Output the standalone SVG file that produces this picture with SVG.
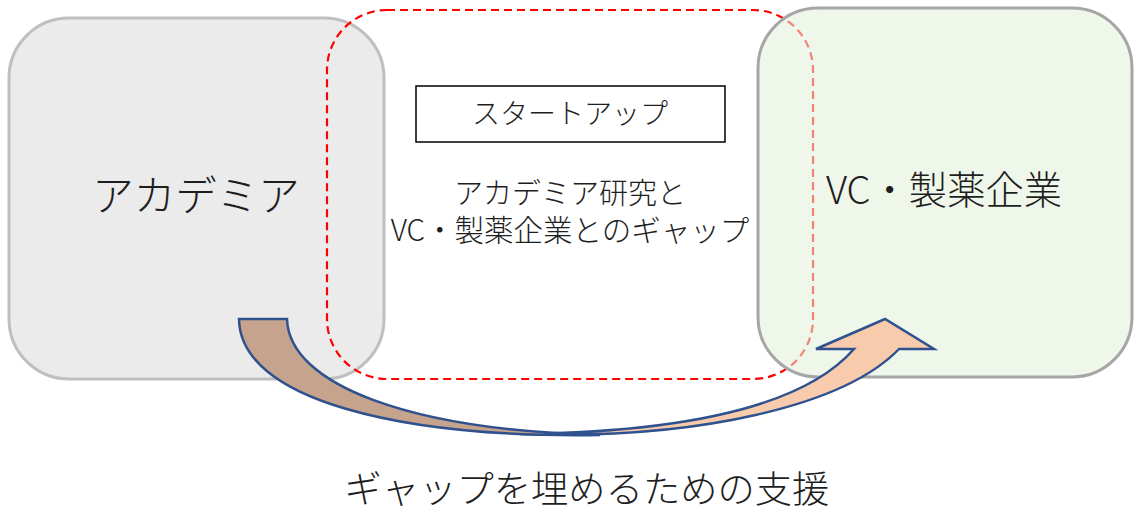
<svg xmlns="http://www.w3.org/2000/svg" width="1140" height="512" viewBox="0 0 1140 512">
<style>
text{font-family:"Noto Sans CJK JP","Noto Sans",sans-serif;fill:#1e1e1e;text-anchor:middle;font-weight:300}
.arrow{stroke:#2f528f;stroke-width:2.5;stroke-linejoin:miter}
</style>
<rect width="1140" height="512" fill="#ffffff"/>
<g id="academia">
<rect x="9" y="18" width="375" height="361" rx="60" ry="60" fill="#ebebeb" stroke="#bfbfbf" stroke-width="3"/>
<text x="196" y="211" font-size="41.5">アカデミア</text>
</g>
<g id="startup-area">
<rect x="327" y="10" width="486" height="369" rx="60" ry="60" fill="none" stroke="#ff0000" stroke-width="2.2" stroke-dasharray="8,5"/>
</g>
<g id="vc">
<rect x="758" y="8" width="374" height="369" rx="60" ry="60" fill="#e2f0d9" fill-opacity="0.55" stroke="#a6a6a6" stroke-width="3"/>
<text x="944" y="204" font-size="38.3">VC・製薬企業</text>
</g>
<g id="startup">
<rect x="416" y="86" width="309" height="56" fill="#ffffff" stroke="#000000" stroke-width="1.5"/>
<text x="570" y="124" font-size="28">スタートアップ</text>
</g>
<g id="gap">
<text x="570" y="204" font-size="29">アカデミア研究と</text>
<text x="570" y="241" font-size="29.5">VC・製薬企業とのギャップ</text>
</g>
<g id="connectors">
<path class="arrow" fill="#f8cbad" d="M520,434 C700,440 845,405 899,349 L934,349 L885,319 L816,349 L854,349 C805,405 690,432 520,434 Z"/>
<path class="arrow" fill="#c5a38c" d="M239,319 L287,319 C289,385 410,430 600,435 C400,438 240,400 239,319 Z"/>
</g>
<g id="support">
<text x="587" y="503" font-size="37.3">ギャップを埋めるための支援</text>
</g>
</svg>
